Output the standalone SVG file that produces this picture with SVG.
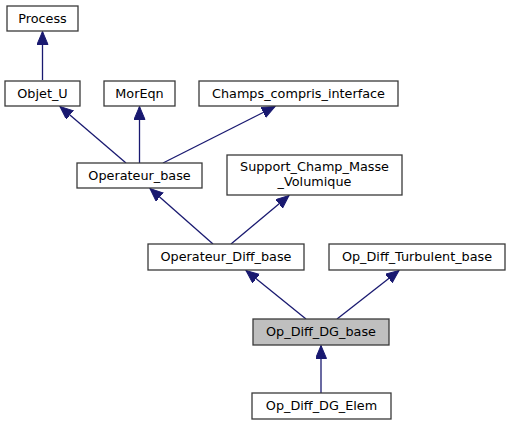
<svg xmlns="http://www.w3.org/2000/svg" width="511" height="425" viewBox="0 0 511 425">
<style>
.box{fill:#ffffff;stroke:#3a3a3a;stroke-width:1.3}
.hl{fill:#bfbfbf;stroke:#3a3a3a;stroke-width:1.3}
text{font-family:"DejaVu Sans",sans-serif;font-size:12.8px;fill:#000;text-anchor:middle}
.edge{stroke:#191970;stroke-width:1.3;fill:none;marker-end:url(#ah)}
</style>
<defs>
<marker id="ah" markerUnits="userSpaceOnUse" markerWidth="14" markerHeight="12" refX="13" refY="5.5" orient="auto">
<path d="M0,0 L13,5.5 L0,11 z" fill="#191970" stroke="#191970" stroke-width="1"/>
</marker>
</defs>
<rect width="511" height="425" fill="#ffffff"/>
<g id="edges">
<line class="edge" x1="42.5" y1="80" x2="42.5" y2="31.5"/>
<line class="edge" x1="126" y1="163" x2="60" y2="106.5"/>
<line class="edge" x1="139.5" y1="163" x2="139.5" y2="106.5"/>
<line class="edge" x1="163" y1="163" x2="275" y2="106.5"/>
<line class="edge" x1="213" y1="244" x2="150" y2="188.5"/>
<line class="edge" x1="231" y1="244" x2="289" y2="195.5"/>
<line class="edge" x1="306" y1="319" x2="246" y2="270.5"/>
<line class="edge" x1="337" y1="319" x2="399" y2="270.5"/>
<line class="edge" x1="321" y1="393" x2="321" y2="345.5"/>
</g>
<g id="Process"><rect class="box" x="7" y="6" width="71" height="25"/><text x="42.5" y="23">Process</text></g>
<g id="Objet_U"><rect class="box" x="5" y="81" width="75" height="25"/><text x="42.5" y="98">Objet_U</text></g>
<g id="MorEqn"><rect class="box" x="104" y="81" width="71" height="25"/><text x="139.5" y="98">MorEqn</text></g>
<g id="Champs_compris_interface"><rect class="box" x="199" y="81" width="199" height="25"/><text x="298.5" y="98">Champs_compris_interface</text></g>
<g id="Operateur_base"><rect class="box" x="77" y="163" width="125" height="25"/><text x="139.5" y="180">Operateur_base</text></g>
<g id="Support_Champ_Masse_Volumique"><rect class="box" x="227" y="155" width="175" height="40"/><text x="314.5" y="171">Support_Champ_Masse</text><text x="314.5" y="186">_Volumique</text></g>
<g id="Operateur_Diff_base"><rect class="box" x="148" y="244" width="156" height="26"/><text x="226" y="261">Operateur_Diff_base</text></g>
<g id="Op_Diff_Turbulent_base"><rect class="box" x="329" y="244" width="176" height="26"/><text x="417" y="261">Op_Diff_Turbulent_base</text></g>
<g id="Op_Diff_DG_base"><rect class="hl" x="253" y="319" width="136" height="26"/><text x="321" y="336">Op_Diff_DG_base</text></g>
<g id="Op_Diff_DG_Elem"><rect class="box" x="252" y="393" width="139" height="26"/><text x="321.5" y="410">Op_Diff_DG_Elem</text></g>
</svg>
